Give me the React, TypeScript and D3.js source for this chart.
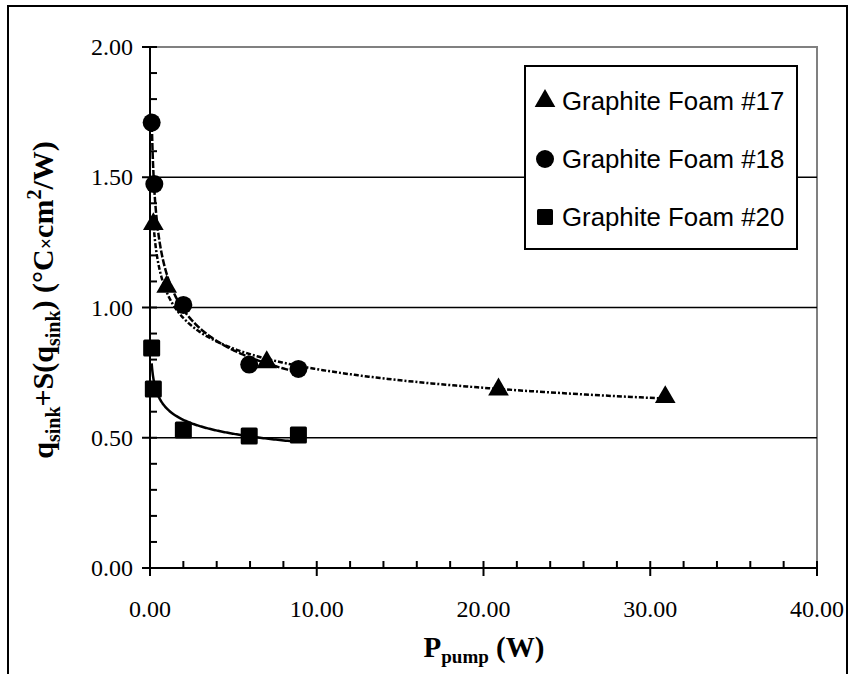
import React, { useEffect, useRef } from "react";
import * as d3 from "d3";

// values (x = pump power W, y = resistance)
const foam17X = [0.2, 1.0, 7.0, 20.9, 30.9];
const foam17Y = [1.32, 1.08, 0.79, 0.685, 0.656];
const foam18X = [0.1, 0.26, 2.0, 5.95, 8.9];
const foam18Y = [1.71, 1.474, 1.01, 0.781, 0.764];
const foam20X = [0.1, 0.2, 2.0, 5.95, 8.9];
const foam20Y = [0.845, 0.687, 0.53, 0.507, 0.511];

const seriesNames = ["Graphite Foam #17", "Graphite Foam #18", "Graphite Foam #20"];
const xTicks = [0, 10, 20, 30, 40];
const yTicks = [0, 0.5, 1.0, 1.5, 2.0];

const W = 849;
const H = 674;
const margin = { left: 150, right: 32, top: 47, bottom: 106 };

// excel style power trendline y = a * x^b
const powerFit = (xs: number[], ys: number[]) => {
  const lx = xs.map(Math.log);
  const ly = ys.map(Math.log);
  const mx = d3.mean(lx) as number;
  const my = d3.mean(ly) as number;
  const b = d3.sum(lx, (v, i) => (v - mx) * (ly[i] - my)) / d3.sum(lx, (v) => (v - mx) * (v - mx));
  const a = Math.exp(my - b * mx);
  return (x: number) => a * Math.pow(x, b);
};

const App = () => {
  const ref = useRef<SVGSVGElement>(null);

  useEffect(() => {
    const svg = d3.select(ref.current);
    svg.selectAll("*").remove();

    const x = d3.scaleLinear().domain([0, 40]).range([margin.left, W - margin.right]);
    const y = d3.scaleLinear().domain([0, 2]).range([H - margin.bottom, margin.top]);
    const x0 = x(0), x1 = x(40), y0 = y(0), y1 = y(2);

    // outer frame
    svg.append("rect")
      .attr("x", 8).attr("y", 6).attr("width", 839).attr("height", 700)
      .attr("fill", "white").attr("stroke", "black").attr("stroke-width", 2);

    // plot area border (grey top/right)
    svg.append("path")
      .attr("d", `M${x0},${y1}H${x1}V${y0}`)
      .attr("fill", "none").attr("stroke", "#808080").attr("stroke-width", 2);

    // gridlines
    svg.selectAll(".grid")
      .data([0.5, 1.0, 1.5])
      .join("line")
      .attr("x1", x0).attr("x2", x1)
      .attr("y1", (d) => y(d)).attr("y2", (d) => y(d))
      .attr("stroke", "black").attr("stroke-width", 1.5);

    // axes
    const axisG = svg.append("g").attr("stroke", "black").attr("stroke-width", 2);
    axisG.append("line").attr("x1", x0).attr("x2", x1).attr("y1", y0).attr("y2", y0);
    axisG.append("line").attr("x1", x0).attr("x2", x0).attr("y1", y0).attr("y2", y1);

    // y minor ticks every 0.1, major ones crossing
    d3.range(0, 21).forEach((i) => {
      const v = i / 10;
      const major = i % 5 === 0;
      axisG.append("line")
        .attr("x1", major ? x0 - 8 : x0).attr("x2", x0 + 7)
        .attr("y1", y(v)).attr("y2", y(v));
    });
    // x minor ticks every 2
    d3.range(0, 21).forEach((i) => {
      const v = i * 2;
      const major = i % 5 === 0;
      axisG.append("line")
        .attr("x1", x(v)).attr("x2", x(v))
        .attr("y1", major ? y0 + 8 : y0).attr("y2", y0 - 7);
    });

    const serif = "'Liberation Serif', 'Times New Roman', serif";
    const sans = "'Liberation Sans', Arial, sans-serif";

    svg.selectAll(".ylab")
      .data(yTicks)
      .join("text")
      .attr("x", x0 - 17).attr("y", (d) => y(d) + 8)
      .attr("text-anchor", "end")
      .attr("font-family", serif).attr("font-size", 24)
      .text((d) => d.toFixed(2));

    svg.selectAll(".xlab")
      .data(xTicks)
      .join("text")
      .attr("x", (d) => x(d)).attr("y", y0 + 49)
      .attr("text-anchor", "middle")
      .attr("font-family", serif).attr("font-size", 24)
      .text((d) => d.toFixed(2));

    // x title
    const xt = svg.append("text")
      .attr("x", 484).attr("y", 657)
      .attr("text-anchor", "middle")
      .attr("font-family", serif).attr("font-size", 29).attr("font-weight", "bold");
    xt.append("tspan").text("P");
    xt.append("tspan").attr("font-size", 19).attr("dy", 6).text("pump");
    xt.append("tspan").attr("dy", -6).text(" (W)");

    // y title
    const yt = svg.append("text")
      .attr("transform", `translate(53,300) rotate(-90)`)
      .attr("text-anchor", "middle")
      .attr("font-family", serif).attr("font-size", 30).attr("font-weight", "bold");
    yt.append("tspan").text("q");
    yt.append("tspan").attr("font-size", 20).attr("dy", 7).text("sink");
    yt.append("tspan").attr("dy", -7).text("+S(q");
    yt.append("tspan").attr("font-size", 20).attr("dy", 7).text("sink");
    yt.append("tspan").attr("dy", -7).text(") (°C");
    yt.append("tspan").attr("font-size", 20).text("×");
    yt.append("tspan").text("cm");
    yt.append("tspan").attr("font-size", 20).attr("dy", -12).text("2");
    yt.append("tspan").attr("dy", 12).text("/W)");

    // trendlines
    const line = d3.line<number[]>().x((d) => x(d[0])).y((d) => y(d[1]));
    const trend = (xs: number[], ys: number[], dash: string | null) => {
      const f = powerFit(xs, ys);
      const lo = d3.min(xs) as number, hi = d3.max(xs) as number;
      const pts = d3.range(0, 301).map((i) => {
        const t = lo * Math.pow(hi / lo, i / 300);
        return [t, f(t)];
      });
      svg.append("path")
        .attr("d", line(pts))
        .attr("fill", "none").attr("stroke", "black")
        .attr("stroke-width", 2.5)
        .attr("stroke-dasharray", dash);
    };
    trend(foam17X, foam17Y, "5,2,2,2");
    trend(foam18X, foam18Y, "7,2");
    trend(foam20X, foam20Y, null);

    // markers
    const tri = d3.symbol().type(d3.symbolTriangle).size(185);
    const gM = svg.append("g").attr("fill", "black");
    gM.selectAll(".t17")
      .data(d3.zip(foam17X, foam17Y))
      .join("path")
      .attr("d", tri())
      .attr("transform", (d) => `translate(${x(d[0])},${y(d[1])})`);
    gM.selectAll(".c18")
      .data(d3.zip(foam18X, foam18Y))
      .join("circle")
      .attr("cx", (d) => x(d[0])).attr("cy", (d) => y(d[1])).attr("r", 9);
    gM.selectAll(".s20")
      .data(d3.zip(foam20X, foam20Y))
      .join("rect")
      .attr("x", (d) => x(d[0]) - 8.5).attr("y", (d) => y(d[1]) - 8.5)
      .attr("width", 17).attr("height", 17).attr("rx", 1.5);

    // legend
    const lg = svg.append("g");
    lg.append("rect")
      .attr("x", 525).attr("y", 66).attr("width", 272).attr("height", 183)
      .attr("fill", "white").attr("stroke", "black").attr("stroke-width", 2);
    const rowY = [101, 159, 217];
    seriesNames.forEach((name, i) => {
      const cy = rowY[i];
      if (i === 0) {
        lg.append("path").attr("d", tri()).attr("transform", `translate(545,${cy})`);
      } else if (i === 1) {
        lg.append("circle").attr("cx", 545).attr("cy", cy).attr("r", 9);
      } else {
        lg.append("rect").attr("x", 537).attr("y", cy - 8).attr("width", 16).attr("height", 16).attr("rx", 1.5);
      }
      lg.append("text")
        .attr("x", 562).attr("y", cy + 9)
        .attr("font-family", sans).attr("font-size", 25.8)
        .text(name);
    });
  }, []);

  return (
    <svg
      ref={ref}
      width={W}
      height={H}
      style={{ position: "absolute", left: 0, top: 0, background: "white" }}
    />
  );
};

export default App;
